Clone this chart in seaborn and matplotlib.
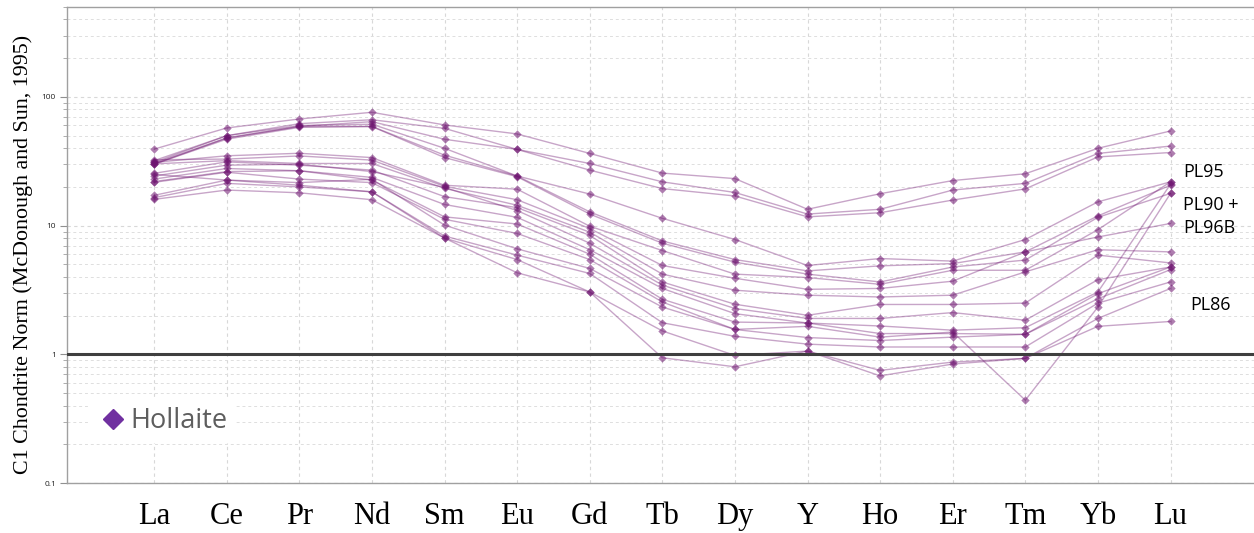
import matplotlib
matplotlib.use("Agg")
import matplotlib.pyplot as plt
import numpy as np
import pandas as pd
import seaborn as sns
from matplotlib.lines import Line2D
from matplotlib.ticker import LogLocator, NullFormatter, FixedLocator, FixedFormatter

# ---------------- data ----------------
elements = ["La", "Ce", "Pr", "Nd", "Sm", "Eu", "Gd", "Tb", "Dy", "Y", "Ho", "Er", "Tm", "Yb", "Lu"]

s01 = [39.3, 57.4, 67.4, 76.0, 60.6, 51.6, 36.4, 25.6, 23.2, 13.4, 17.7, 22.4, 25.3, 39.9, 54.4]
s02 = [31.0, 50.0, 62.0, 66.5, 57.0, 39.1, 30.4, 21.9, 18.1, 12.3, 13.4, 18.9, 21.3, 36.4, 41.5]
s03 = [30.5, 48.0, 59.0, 64.3, 46.9, 39.1, 27.0, 19.4, 17.0, 11.7, 12.6, 15.8, 19.3, 34.2, 37.0]
s04 = [32.0, 50.0, 60.0, 61.4, 39.9, 24.3, 17.6, 11.4, 7.8, 4.9, 5.55, 5.3, 7.8, 15.3, 21.9]
s05 = [30.0, 48.0, 59.0, 59.0, 35.3, 24.3, 12.8, 7.6, 5.45, 4.45, 4.87, 5.07, 6.25, 11.9, 20.6]
s06 = [30.0, 47.0, 58.0, 58.9, 33.8, 24.0, 12.3, 7.3, 5.2, 4.2, 3.65, 4.77, 5.4, 11.6, 17.8]
s07 = [31.0, 34.9, 36.5, 33.8, 20.6, 19.2, 9.9, 6.4, 4.2, 3.95, 3.5, 4.5, 4.5, 9.3, 21.9]
s08 = [32.5, 32.9, 34.8, 32.3, 20.2, 15.9, 9.5, 4.9, 3.9, 3.2, 3.25, 3.7, 6.25, 8.16, 10.4]
s09 = [30.2, 32.0, 30.4, 30.4, 19.5, 14.4, 8.9, 4.2, 3.15, 2.88, 2.79, 2.88, 4.37, 6.5, 6.25]
s10 = [25.5, 31.3, 29.5, 27.0, 16.8, 13.8, 8.4, 3.65, 2.45, 2.01, 2.44, 2.44, 2.5, 5.9, 5.13]
s11 = [24.3, 29.5, 30.0, 26.3, 19.8, 13.1, 7.3, 3.45, 2.27, 1.9, 1.9, 2.11, 1.84, 3.8, 4.77]
s12 = [23.0, 27.8, 26.7, 23.7, 14.6, 11.6, 6.5, 3.25, 2.07, 1.75, 1.66, 1.54, 1.61, 3.05, 21.0]
s13 = [22.0, 26.3, 26.7, 22.6, 11.7, 10.3, 6.0, 2.68, 1.78, 1.75, 1.45, 1.45, 1.43, 2.96, 4.77]
s14 = [21.7, 26.0, 23.0, 21.6, 11.2, 8.7, 5.45, 2.55, 1.56, 1.65, 1.36, 1.49, 0.44, 2.33, 17.8]
s15 = [25.0, 22.6, 21.6, 22.9, 10.1, 6.6, 4.65, 2.33, 1.56, 1.35, 1.28, 1.36, 1.43, 2.7, 4.55]
s16 = [17.2, 22.6, 20.6, 18.3, 8.3, 5.9, 4.25, 1.76, 1.38, 1.2, 1.14, 1.14, 1.14, 2.5, 3.65]
s17 = [16.5, 21.3, 20.0, 18.3, 8.0, 5.45, 3.05, 1.52, 0.98, 1.06, 0.75, 0.87, 0.93, 1.9, 3.25]
s18 = [16.0, 18.9, 18.0, 15.9, 8.0, 4.3, 3.05, 0.94, 0.80, 1.06, 0.68, 0.84, 0.93, 1.65, 1.8]

samples = {"s01": s01, "s02": s02, "s03": s03, "s04": s04, "s05": s05, "s06": s06,
           "s07": s07, "s08": s08, "s09": s09, "s10": s10, "s11": s11, "s12": s12,
           "s13": s13, "s14": s14, "s15": s15, "s16": s16, "s17": s17, "s18": s18}

legend_label = "Hollaite"
side_labels = ["PL95", "PL90 +", "PL96B", "PL86"]

# ---------------- build table ----------------
rows = []
for name, vals in samples.items():
    for i, (el, v) in enumerate(zip(elements, vals)):
        rows.append({"sample": name, "element": el, "pos": i, "value": v})
df = pd.DataFrame(rows)

# ---------------- plot ----------------
sns.set_style("white")
plt.rcParams["font.family"] = ["Open Sans", "DejaVu Sans"]

W, H = 1254, 533
fig = plt.figure(figsize=(W / 100, H / 100), dpi=100)
ax = fig.add_axes([67 / W, 50 / H, 1187 / W, 476 / H])

PURPLE = "#6e1470"
sns.lineplot(data=df, x="pos", y="value", units="sample", estimator=None,
             color=PURPLE, alpha=0.38, lw=1.0, sort=False, legend=False, ax=ax, zorder=3)
sns.scatterplot(data=df, x="pos", y="value", marker="D", s=18, color=PURPLE,
                alpha=0.55, linewidth=0, legend=False, ax=ax, zorder=4)

ax.axhline(1, color="#3f3f3f", lw=2.2, zorder=5)

ax.set_yscale("log")
ax.set_ylim(0.1, 500)
ax.set_xlim(-1.2, 15.15)

ax.yaxis.set_major_locator(FixedLocator([0.1, 1, 10, 100]))
ax.yaxis.set_major_formatter(FixedFormatter(["0.1", "1", "10", "100"]))
ax.yaxis.set_minor_locator(LogLocator(base=10, subs=np.arange(2, 10)))
ax.yaxis.set_minor_formatter(NullFormatter())
ax.tick_params(axis="y", which="major", length=5, width=0.8, color="#909090",
               labelsize=6, labelcolor="#222222", pad=3, left=True)
ax.tick_params(axis="y", which="minor", length=3, width=0.6, color="#a0a0a0", left=True)

ax.set_xticks(range(len(elements)))
ax.set_xticklabels(elements, fontsize=22, family="Liberation Serif", color="black")
ax.tick_params(axis="x", length=0, pad=14)
ax.set_xlabel("")

ax.grid(True, which="major", axis="both", ls=(0, (3, 3)), color="#d8d8d8", lw=0.8, zorder=0)
ax.grid(True, which="minor", axis="y", ls=(0, (3, 3)), color="#dedede", lw=0.7, zorder=0)
ax.set_axisbelow(True)

for side in ["left", "bottom", "top"]:
    ax.spines[side].set_color("#a0a0a0")
    ax.spines[side].set_linewidth(1.0)
ax.spines["right"].set_visible(False)

ax.set_ylabel("C1 Chondrite Norm (McDonough and Sun, 1995)", fontsize=15.8,
              family="Liberation Serif", color="black")
ax.yaxis.set_label_coords(-0.029, 0.48)

handle = Line2D([], [], marker="D", color="#7030a0", ls="", markersize=10.5)
leg = ax.legend([handle], [legend_label], loc="center left", bbox_to_anchor=(0.007, 0.13),
                frameon=True, facecolor="white", edgecolor="none", framealpha=1,
                fontsize=19.5, handletextpad=0.05, borderpad=0.3, handlelength=1.2)
for t in leg.get_texts():
    t.set_color("#5e5e5e")

pos = [(1183, 172), (1183, 205), (1183, 228), (1190, 305)]
for lab, (px, py) in zip(side_labels, pos):
    fig.text(px / W, 1 - py / H, lab, fontsize=13, ha="left", va="center", color="black")

fig.savefig("out.png", dpi=100)
